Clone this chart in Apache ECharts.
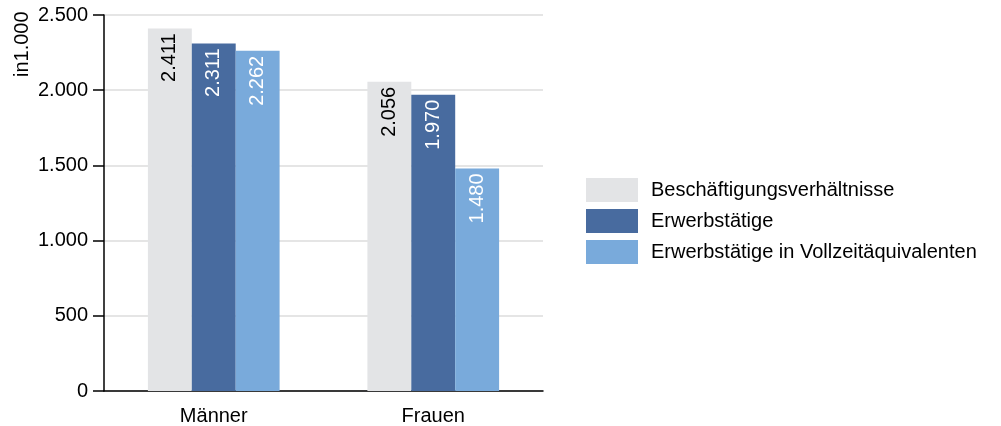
<!DOCTYPE html>
<html><head><meta charset="utf-8">
<script src="https://cdn.jsdelivr.net/npm/echarts@6/dist/echarts.min.js"></script>
<style>html,body{margin:0;padding:0;background:#fff}#c{width:1001px;height:426px}</style>
</head><body><div id="c"></div>
<script>
var categories = ['Männer', 'Frauen'];
var seriesNames = ['Beschäftigungsverhältnisse', 'Erwerbstätige', 'Erwerbstätige in Vollzeitäquivalenten'];
var beschaeftigung = [2411, 2056];
var erwerbstaetige = [2311, 1970];
var vollzeit = [2262, 1480];
var yTicks = [0, 500, 1000, 1500, 2000, 2500];
var yAxisTitle = 'in1.000';

var colors = ['#e3e4e6', '#486b9f', '#79aadb'];
var labelColors = ['#000', '#fff', '#fff'];
var FONT = 'Liberation Sans, Arial, sans-serif';
function fmt(v){ return String(v).replace(/\B(?=(\d{3})+(?!\d))/g, '.'); }

var data = [beschaeftigung, erwerbstaetige, vollzeit];
var chart = echarts.init(document.getElementById('c'), null, {renderer:'canvas'});
chart.setOption({
  animation: false,
  textStyle: {fontFamily: FONT},
  grid: {left: 104, right: 458, top: 15, bottom: 34, containLabel: false},
  legend: {
    orient: 'vertical', left: 586, top: 178, padding: 0,
    itemWidth: 52, itemHeight: 24, itemGap: 7,
    icon: 'rect',
    textStyle: {fontSize: 20, color: '#000', fontFamily: FONT, padding: [0,0,0,8]},
    data: seriesNames
  },
  xAxis: {
    type: 'category', data: categories,
    axisLine: {lineStyle: {color: '#000', width: 1.5}},
    axisTick: {show: false},
    axisLabel: {fontSize: 20, color: '#000', margin: 15, fontFamily: FONT}
  },
  yAxis: {
    type: 'value', min: yTicks[0], max: yTicks[yTicks.length-1], interval: 500,
    axisLine: {show: true, lineStyle: {color: '#000', width: 1.5}},
    axisTick: {show: true, length: 11, lineStyle: {color: '#000', width: 1.5}},
    axisLabel: {fontSize: 20, color: '#000', margin: 16, fontFamily: FONT, formatter: function(v){return fmt(v);}},
    splitLine: {lineStyle: {color: '#dcdcdc', width: 1.5}}
  },
  graphic: [{
    type: 'text', x: 22, y: 77, rotation: Math.PI/2,
    style: {text: yAxisTitle, font: '20px ' + FONT, fill: '#000', align: 'left', verticalAlign: 'middle'}
  }],
  series: seriesNames.map(function(n, i){
    return {
      name: n, type: 'bar', data: data[i],
      barGap: '0%', barCategoryGap: '40%',
      itemStyle: {color: colors[i]},
      label: {
        show: true, position: 'insideTop', rotate: 90, align: 'right', verticalAlign: 'middle',
        distance: 5, fontSize: 20, color: labelColors[i], fontFamily: FONT,
        formatter: function(p){ return fmt(p.value); }
      }
    };
  })
});
</script></body></html>
